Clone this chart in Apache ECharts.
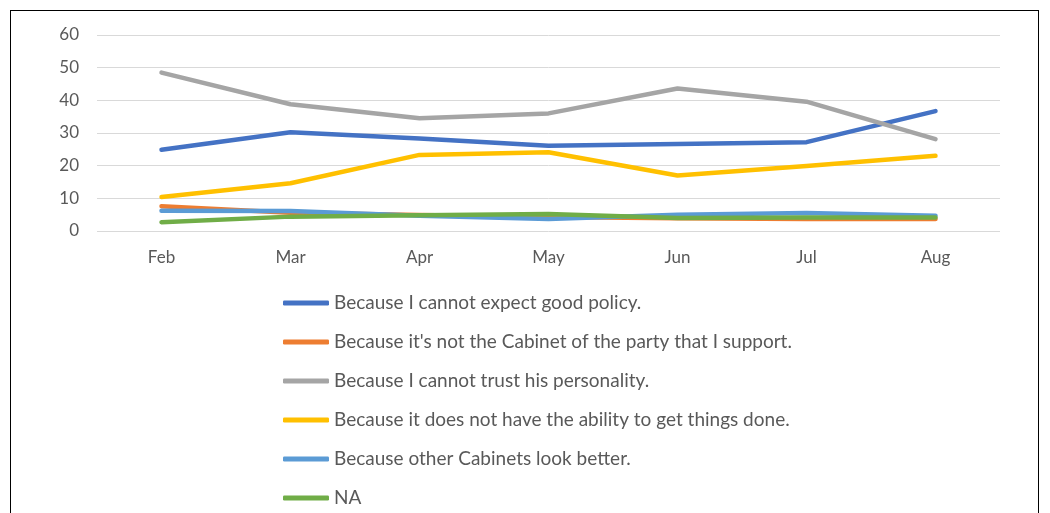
<!DOCTYPE html>
<html lang="en">
<head>
    <meta charset="UTF-8">
    <title>Reasons for not supporting the Cabinet</title>
    <script src="https://cdn.jsdelivr.net/npm/echarts@6/dist/echarts.min.js"></script>
    <style>
        body {
            margin: 0;
            background: #fff;
        }
        #frame {
            position: absolute;
            left: 10px;
            top: 10px;
            width: 1029px;
            height: 520px;
            border: 1px solid #000;
            box-sizing: border-box;
        }
        #main {
            position: absolute;
            left: 0;
            top: 0;
            width: 1050px;
            height: 513px;
        }
    </style>
</head>
<body>
<div id="main"></div>
<div id="frame"></div>
<script type="text/javascript">
    // months on the x axis
    var months = ['Feb', 'Mar', 'Apr', 'May', 'Jun', 'Jul', 'Aug'];

    // series values (%)
    var policy      = [24.9, 30.2, 28.3, 26.1, 26.6, 27.2, 36.7];
    var notMyParty  = [7.6, 5.6, 4.9, 4.3, 3.9, 3.7, 3.7];
    var personality = [48.5, 38.8, 34.5, 36.0, 43.6, 39.6, 28.1];
    var ability     = [10.4, 14.6, 23.3, 24.1, 17.0, 19.9, 23.0];
    var otherBetter = [6.2, 6.1, 4.7, 3.7, 5.0, 5.5, 4.7];
    var na          = [2.7, 4.4, 4.8, 5.2, 4.0, 4.1, 4.1];

    var names = [
        'Because I cannot expect good policy.',
        "Because it's not the Cabinet of the party that I support.",
        'Because I cannot trust his personality.',
        'Because it does not have the ability to get things done.',
        'Because other Cabinets look better.',
        'NA'
    ];
    var colors = ['#4472C4', '#ED7D31', '#A5A5A5', '#FFC000', '#5B9BD5', '#70AD47'];
    var values = [policy, notMyParty, personality, ability, otherBetter, na];

    var myChart = echarts.init(document.getElementById('main'));

    var series = names.map(function (n, i) {
        return {
            name: n,
            type: 'line',
            data: values[i],
            symbol: 'none',
            lineStyle: { width: 4.5, color: colors[i], cap: 'round', join: 'round' },
            itemStyle: { color: colors[i] }
        };
    });

    var option = {
        backgroundColor: '#fff',
        animation: false,
        color: colors,
        grid: {
            left: 97,
            right: 50,
            top: 35,
            bottom: 282,
            containLabel: false
        },
        legend: {
            orient: 'vertical',
            left: 283,
            top: 293.5,
            height: 300,
            padding: 0,
            icon: 'roundRect',
            itemWidth: 46,
            itemHeight: 5,
            itemGap: 20,
            data: names,
            textStyle: {
                fontFamily: 'Lato',
                fontSize: 19,
                color: '#595959'
            }
        },
        xAxis: {
            type: 'category',
            data: months,
            boundaryGap: true,
            axisLine: { show: false },
            axisTick: { show: false },
            axisLabel: {
                margin: 18,
                fontFamily: 'Lato',
                fontSize: 17,
                color: '#595959'
            }
        },
        yAxis: {
            type: 'value',
            min: 0,
            max: 60,
            interval: 10,
            axisLine: { show: false },
            axisTick: { show: false },
            axisLabel: {
                margin: 18,
                fontFamily: 'Lato',
                fontSize: 17,
                color: '#595959'
            },
            splitLine: { lineStyle: { color: '#D9D9D9', width: 1 } }
        },
        series: series
    };

    myChart.setOption(option);
</script>
</body>
</html>
